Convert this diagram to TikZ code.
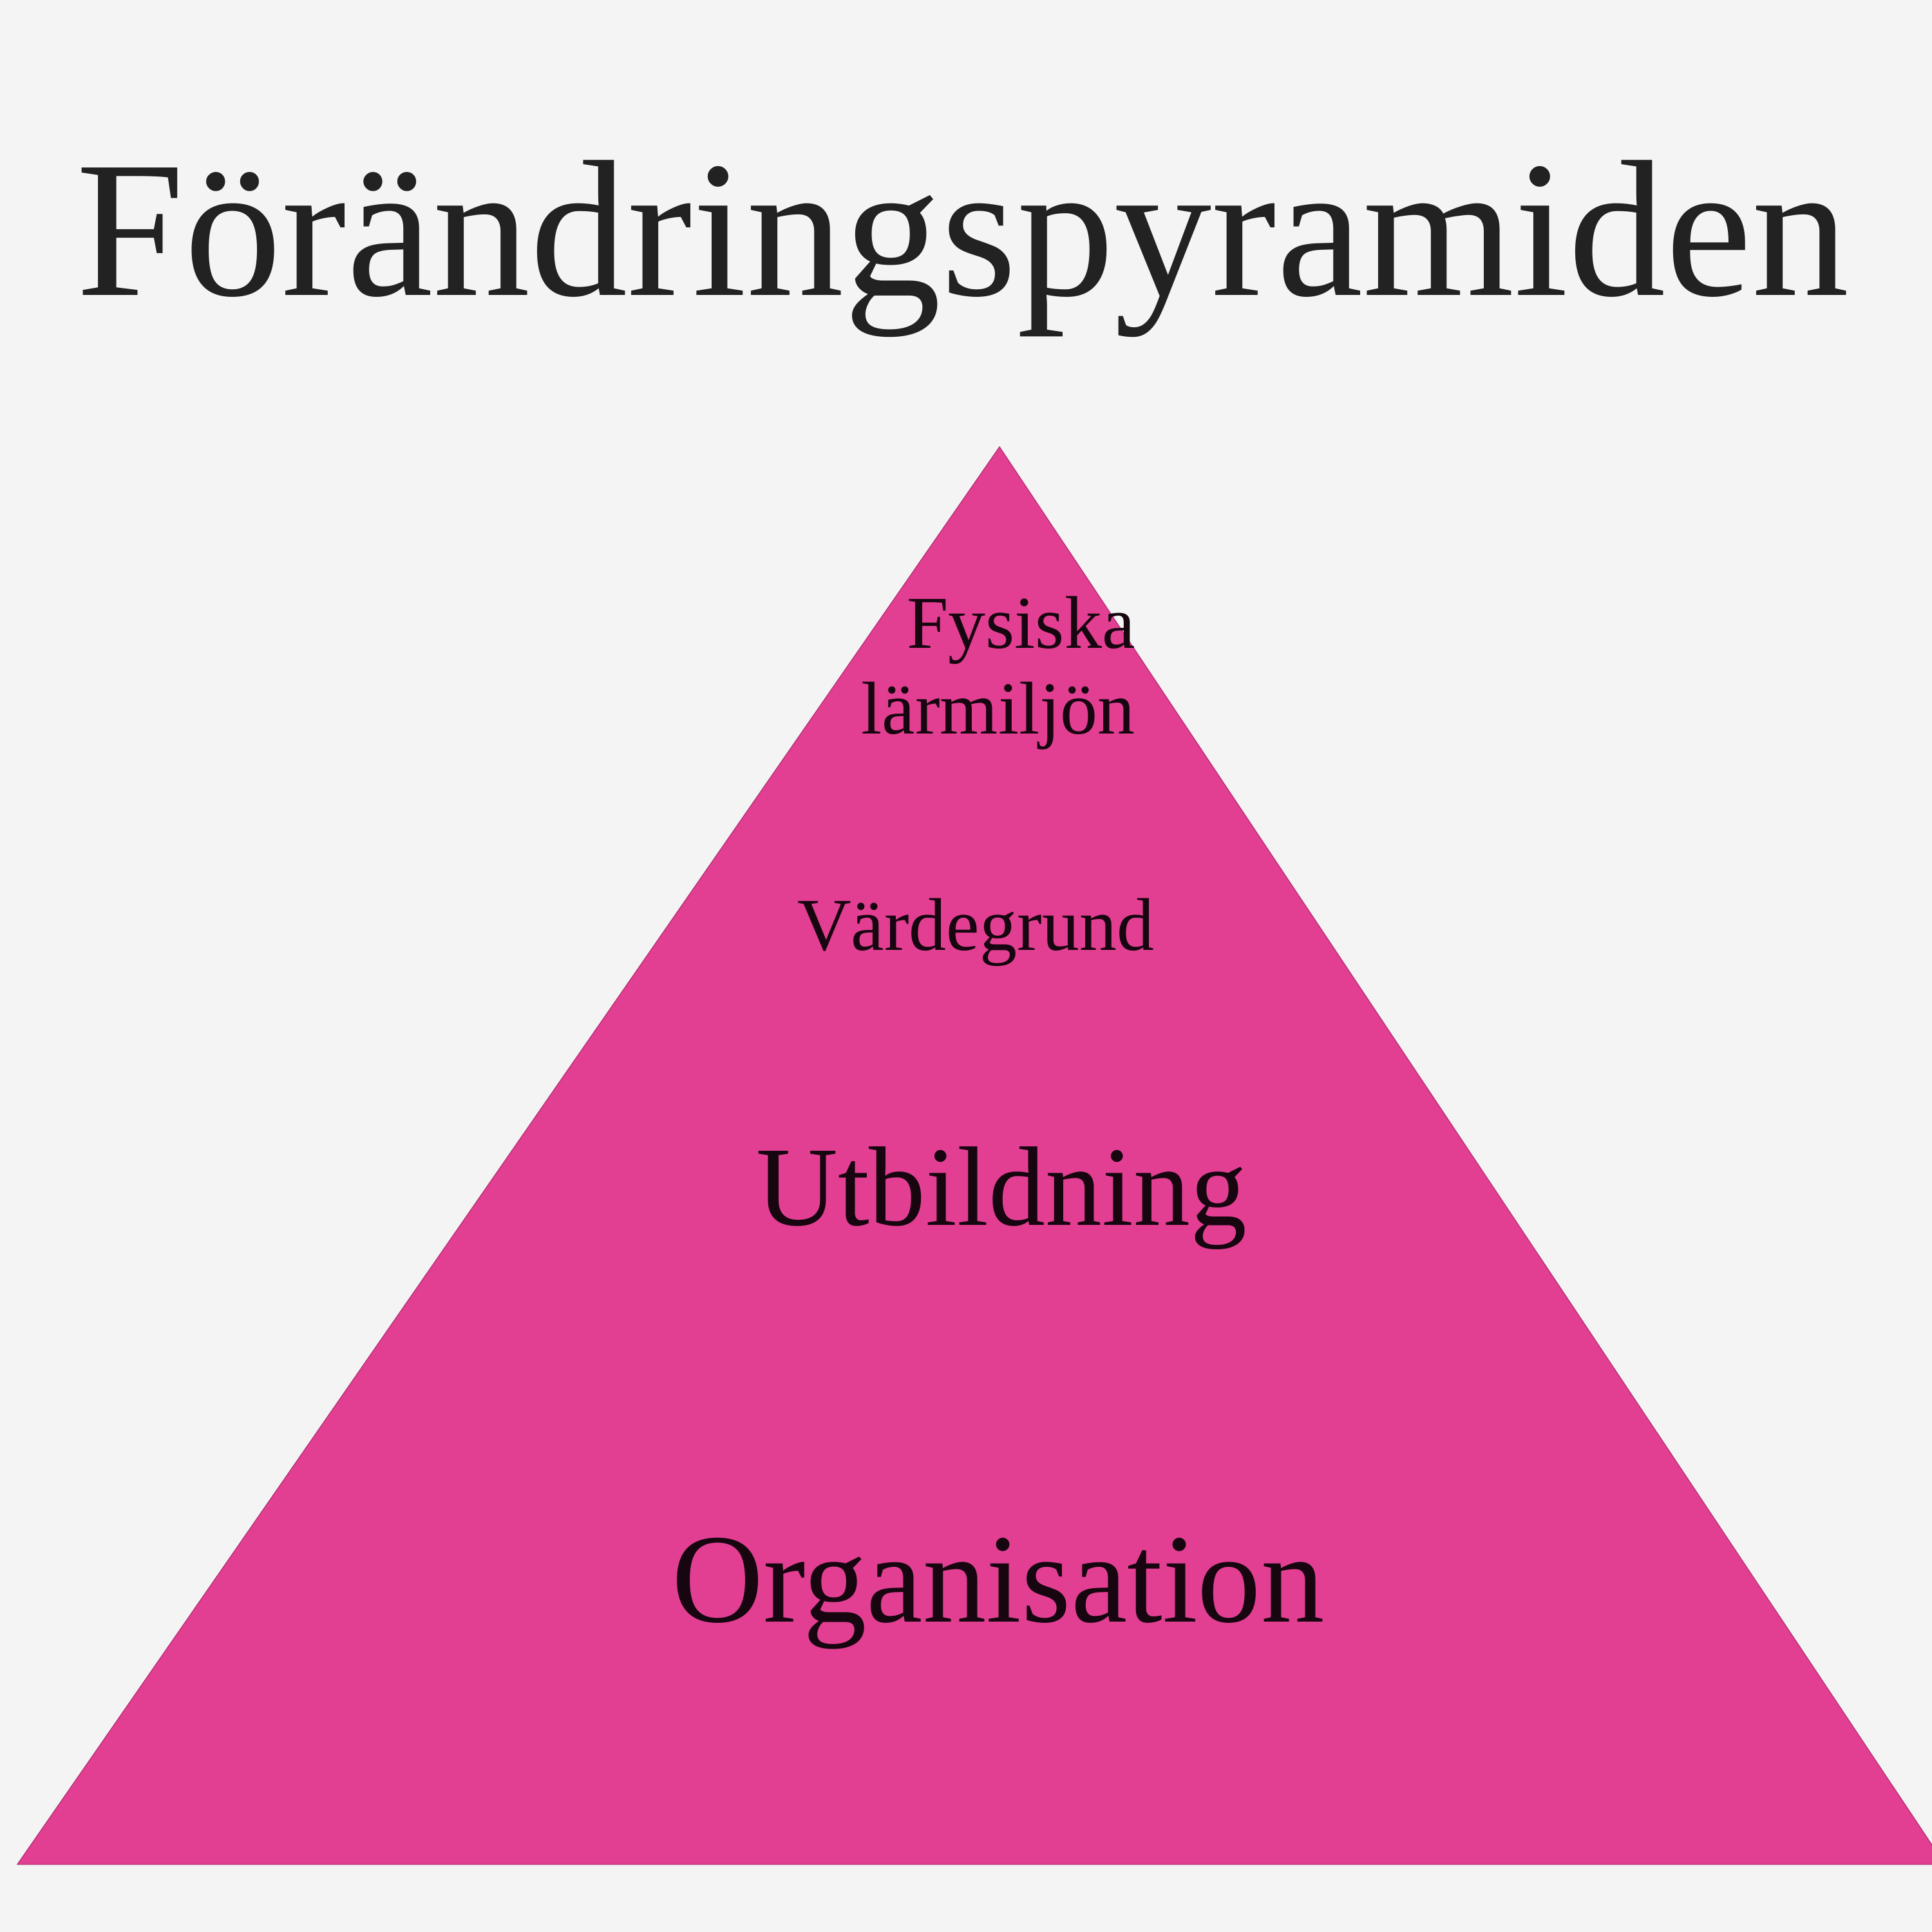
\documentclass[tikz,border=0pt]{standalone}
\usepackage{fontspec}
\setmainfont{Liberation Serif}
\usetikzlibrary{positioning}
\definecolor{pyrpink}{HTML}{E23F93}
\definecolor{paper}{HTML}{F4F4F4}
\definecolor{ink}{HTML}{222222}
\tikzset{
    level/.style={
        text=black!90!pyrpink,
        font=\fontsize{33}{38}\selectfont,
    },
    biglevel/.style={
        level,
        font=\fontsize{50}{56}\selectfont,
    },
}
\begin{document}
\begin{tikzpicture}
    \fill[paper] (0,0) rectangle (30,-30);
    \useasboundingbox (0,0) rectangle (30,-30);

    \node [anchor=base, text=ink, font=\fontsize{86}{90}\selectfont] (title) at (14.95,-4.59) {Förändringspyramiden};

    \coordinate (apex) at (15.52,-6.94);
    \coordinate (baseL) at (0.27,-28.95);
    \coordinate (baseR) at (30.2,-28.95);
    \fill[pyrpink, draw=pyrpink!80!black, thin] (apex) -- (baseL) -- (baseR) -- cycle;

    \node [level, align=right] (fysiska) at (15.5,-10.45) {Fysiska\\lärmiljön};
    \node [level] (varde) at (15.15,-14.48) {Värdegrund};
    \node [biglevel] (utb) at (15.55,-18.6) {Utbildning};
    \node [biglevel, font=\fontsize{56}{60}\selectfont] (org) at (15.5,-24.75) {Organisation};
\end{tikzpicture}
\end{document}
